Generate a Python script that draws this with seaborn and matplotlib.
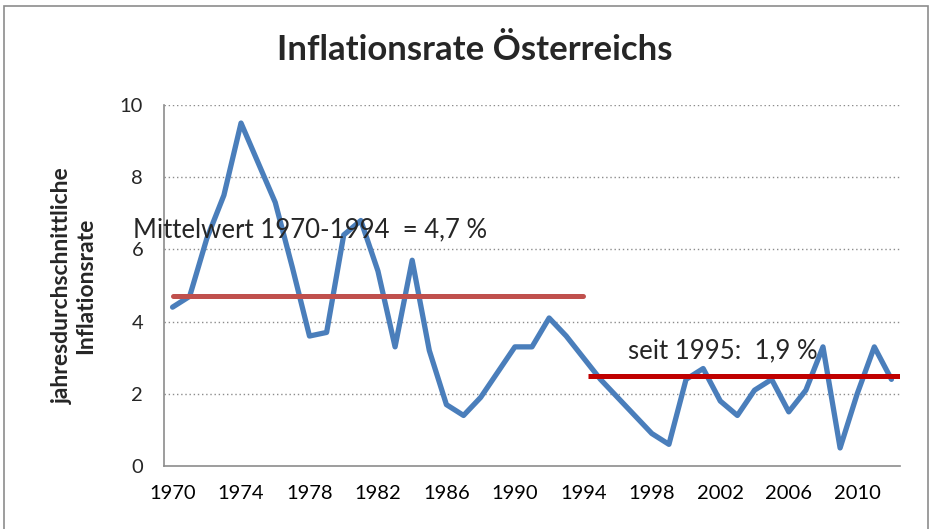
import numpy as np
import pandas as pd
import matplotlib
matplotlib.use("Agg")
import matplotlib.pyplot as plt
import seaborn as sns
from matplotlib.patches import Rectangle

# Daten: Inflationsrate Oesterreich 1970-2012
years = list(range(1970, 2013))
inflation = [4.4, 4.7, 6.3, 7.5, 9.5, 8.4, 7.3, 5.5, 3.6, 3.7,
             6.4, 6.8, 5.4, 3.3, 5.7, 3.2, 1.7, 1.4, 1.9, 2.6,
             3.3, 3.3, 4.1, 3.6, 3.0, 2.4, 1.9, 1.4, 0.9, 0.6,
             2.4, 2.7, 1.8, 1.4, 2.1, 2.4, 1.5, 2.1, 3.3, 0.5,
             2.0, 3.3, 2.4]

mean1_span = [1970, 1994]
mean1_value = 4.7
mean2_span = [1994.25, 2012.5]
mean2_value = 2.5
tick_years = list(range(1970, 2011, 4))

df = pd.DataFrame({"Jahr": years, "Inflation": inflation})

sns.set_theme(style="white")
plt.rcParams["font.family"] = ["Lato", "DejaVu Sans"]

fig = plt.figure(figsize=(9.33, 5.29), dpi=100)
ax = fig.add_axes([164 / 933, 1 - 466 / 529, (900 - 164) / 933, (466 - 105) / 529])

# Rahmen um das ganze Diagramm
fig.patches.append(Rectangle((4 / 933, -0.05), (928 - 4) / 933, 1.05 - 6 / 529,
                             transform=fig.transFigure, fill=False,
                             edgecolor="#8c8c8c", linewidth=1.2))

for v in [2, 4, 6, 8, 10]:
    ax.axhline(v, color="#8c8c8c", linestyle=(0, (1, 2)), linewidth=1.0, zorder=0)

sns.lineplot(data=df, x="Jahr", y="Inflation", ax=ax, color="#4a7ebb",
             linewidth=3.8, zorder=3)
ax.plot(mean1_span, [mean1_value] * 2, color="#c0504d", linewidth=3.6,
        solid_capstyle="round", zorder=4)
ax.plot(mean2_span, [mean2_value] * 2, color="#c00000", linewidth=3.6,
        solid_capstyle="butt", zorder=4)

ax.set_xlim(1969.5, 2012.5)
ax.set_ylim(0, 10)
ax.set_xticks(tick_years)
ax.set_xticklabels([str(y) for y in tick_years])
ax.set_xticks(np.arange(1969.5, 2013, 1), minor=True)
ax.set_yticks([0, 2, 4, 6, 8, 10])
ax.tick_params(axis="x", which="major", length=0, pad=14, labelsize=14.5, colors="#000000")
ax.tick_params(axis="x", which="minor", length=5, width=1.2, color="#8c8c8c", direction="out")
ax.tick_params(axis="y", length=5, width=1.2, color="#8c8c8c", direction="out",
               labelsize=14.5, pad=10)

for side in ["top", "right"]:
    ax.spines[side].set_visible(False)
for side in ["left", "bottom"]:
    ax.spines[side].set_color("#8c8c8c")
    ax.spines[side].set_linewidth(1.2)
ax.set_xlabel("")
ax.set_ylabel("jahresdurchschnittliche\nInflationsrate", fontsize=16.5,
              fontweight="bold", linespacing=1.15)
ax.yaxis.set_label_coords(-0.092, 0.5)

fig.text(475 / 933, 1 - 50 / 529, "Inflationsrate Österreichs", ha="center",
         va="center", fontsize=25, fontweight="bold")

ax.text(1967.7, 6.55, "Mittelwert 1970-1994  = 4,7 %", fontsize=18.5, ha="left",
        va="center", zorder=5)
ax.text(1996.6, 3.2, "seit 1995:  1,9 %", fontsize=18.5, ha="left", va="center",
        zorder=5)

fig.savefig("out.png", dpi=100)
